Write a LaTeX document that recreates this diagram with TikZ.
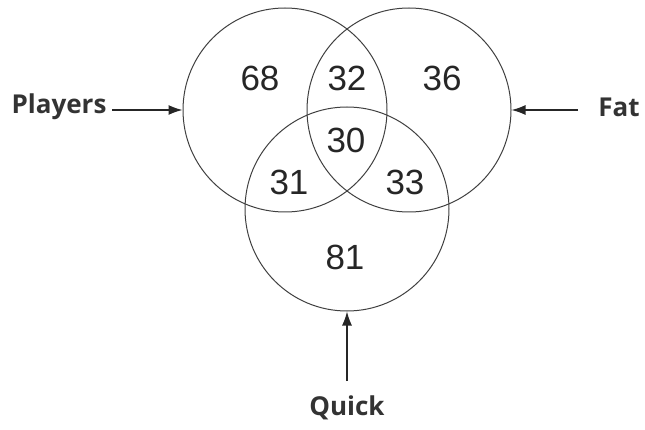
\documentclass[tikz,border=0pt]{standalone}
\usepackage{fontspec}
\setmainfont{Liberation Sans}
\newfontfamily\labelfont{Open Sans}
\usetikzlibrary{arrows,arrows.meta,positioning,calc}

\begin{document}
\begin{tikzpicture}[x=1pt,y=-1pt]
        \tikzstyle{every node}=[font=\fontsize{35}{40}\selectfont,text=black!85]
        \tikzstyle{set}=[circle,draw=black!75,line width=1pt,minimum size=204pt,inner sep=0pt]
        \tikzstyle{setname}=[font=\labelfont\bfseries\fontsize{26}{30}\selectfont,text=black!80,inner sep=2pt]
        \tikzstyle{pointer}=[-{Latex[length=14pt,width=10pt]},line width=1.3pt,black!85]
        \useasboundingbox (0,0) rectangle (645,430);

        %%% sets
        \node[set] (players) at (285,110) {};
        \node[set] (fat) at (409,110) {};
        \node[set] (quick) at (347,209) {};

        %%% counts
        \node (n68) at (260,78) {68};
        \node (n32) at (347,78) {32};
        \node (n36) at (442,78) {36};
        \node (n30) at (346,140) {30};
        \node (n31) at (289,182) {31};
        \node (n33) at (405,182) {33};
        \node (n81) at (345,257) {81};

        %%% names
        \node[setname] (playerslbl) at (59,107) {Players};
        \node[setname] (fatlbl) at (619,107) {Fat};
        \node[setname] (quicklbl) at (347,408) {Quick};
        \coordinate (playerstail) at (112,110);
        \coordinate (fattail) at (578,110);
        \coordinate (quicktail) at (347,381);

        \draw[pointer] (playerstail) -- (players.west);
        \draw[pointer] (fattail) -- (fat.east);
        \draw[pointer] (quicktail) -- (quick.south);
    \end{tikzpicture}
\end{document}
